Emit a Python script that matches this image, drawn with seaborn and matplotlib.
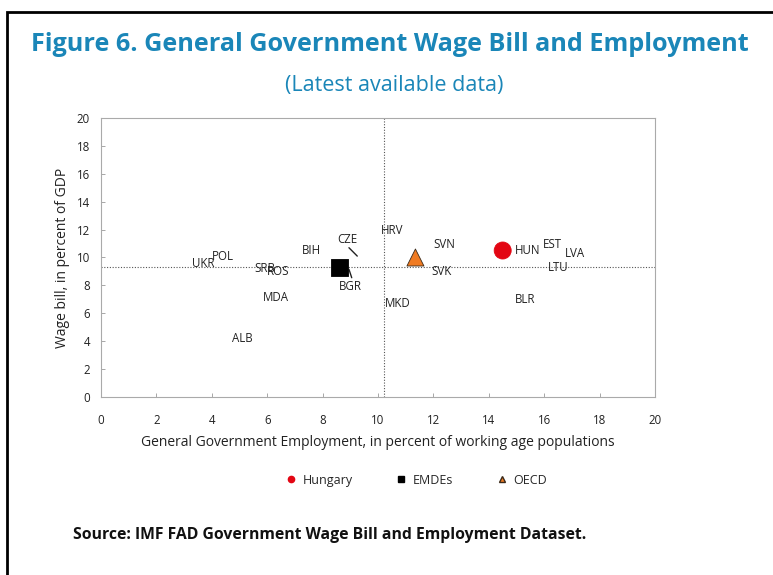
import matplotlib
matplotlib.use('Agg')
import matplotlib.pyplot as plt
import seaborn as sns
import pandas as pd
from matplotlib.patches import Rectangle
from matplotlib.lines import Line2D

# country labels (x = employment %, y = wage bill % of GDP)
countries = ['UKR', 'POL', 'SRB', 'ROS', 'MDA', 'ALB', 'BIH', 'CZE', 'BGR', 'HRV',
             'MKD', 'SVN', 'SVK', 'HUN', 'EST', 'LVA', 'LTU', 'BLR']
emp = [3.7, 4.4, 5.9, 6.4, 6.3, 5.1, 7.6, 8.9, 9.0, 10.5,
       10.7, 12.4, 12.3, 15.4, 16.3, 17.1, 16.5, 15.3]
wage = [9.6, 10.1, 9.2, 9.0, 7.1, 4.2, 10.5, 11.3, 7.9, 11.9,
        6.7, 10.9, 9.0, 10.5, 10.9, 10.3, 9.3, 7.0]

# leader lines from label to point
leader_names = ['CZE', 'BGR']
leader_x = [9.25, 8.95]
leader_y = [9.7, 9.25]

groups = ['Hungary', 'EMDEs', 'OECD']
group_x = [14.5, 8.6, 11.35]
group_y = [10.5, 9.25, 10.0]

avg_emp = 10.2
avg_wage = 9.35

teal = '#1a86b8'

sns.set_style('white')
plt.rcParams['font.family'] = ['Open Sans', 'DejaVu Sans']

fig = plt.figure(figsize=(7.73, 5.75), dpi=100)
ax = fig.add_axes([0.1307, 0.3096, 0.7167, 0.4852])

ax.axvline(avg_emp, color='#555555', ls=(0, (1, 1.5)), lw=0.8, zorder=1)
ax.axhline(avg_wage, color='#555555', ls=(0, (1, 1.5)), lw=0.8, zorder=1)

df = pd.DataFrame({'x': group_x, 'y': group_y, 'g': groups})
sns.scatterplot(data=df, x='x', y='y', hue='g', style='g',
                palette={'Hungary': '#e30613', 'EMDEs': '#000000', 'OECD': '#f07b22'},
                markers={'Hungary': 'o', 'EMDEs': 's', 'OECD': '^'},
                s=150, edgecolor='#222222', linewidth=0.6, ax=ax, zorder=3, legend=False)
ax.collections[0].set_edgecolors(['#e30613', '#000000', '#3a2a1a'])

for name, x, y in zip(countries, emp, wage):
    ax.text(x, y, name, ha='center', va='center', fontsize=8.3, color='#222222', zorder=4)

for name, lx, ly in zip(leader_names, leader_x, leader_y):
    i = countries.index(name)
    tx, ty = emp[i], wage[i]
    sy = ty - 0.6 if ty > ly else ty + 0.65
    ax.plot([tx + 0.05, lx], [sy, ly + (0.4 if ty > ly else -0.1)], color='#222222', lw=1.0, zorder=2)

ax.set_xlim(0, 20)
ax.set_ylim(0, 20)
ax.set_xticks(range(0, 21, 2))
ax.set_yticks(range(0, 21, 2))
ax.tick_params(direction='in', length=3, width=0.6, color='#999999', labelsize=8.3,
               labelcolor='#222222', left=True, bottom=True)
ax.tick_params(axis='x', pad=12)
ax.tick_params(axis='y', pad=8)
for sp in ax.spines.values():
    sp.set_color('#aaaaaa')
    sp.set_linewidth(0.8)
ax.set_xlabel('General Government Employment, in percent of working age populations',
              fontsize=10, color='#222222', labelpad=6)
ax.set_ylabel('Wage bill, in percent of GDP', fontsize=10, color='#222222', labelpad=5)

# legend
handles = [Line2D([], [], marker='o', ls='', color='#e30613', markersize=4.5),
           Line2D([], [], marker='s', ls='', color='#000000', markersize=4.5),
           Line2D([], [], marker='^', ls='', markerfacecolor='#f07b22',
                  markeredgecolor='#3a2a1a', markersize=4.5)]
fig.legend(handles, groups, loc='center', bbox_to_anchor=(0.537, 0.165), ncol=3,
           frameon=False, fontsize=9, handletextpad=0.3, handlelength=1.2,
           columnspacing=3.3)

fig.text(0.505, 0.922, 'Figure 6. General Government Wage Bill and Employment',
         ha='center', va='center', fontsize=18.2, fontweight='bold', color=teal)
fig.text(0.51, 0.851, '(Latest available data)', ha='center', va='center',
         fontsize=15.5, color=teal)
fig.text(0.094, 0.07, 'Source: IMF FAD Government Wage Bill and Employment Dataset.',
         ha='left', va='center', fontsize=11.3, fontweight='bold', color='#111111')

fig.patches.append(Rectangle((0.009, -0.05), 1.2, 1.03, transform=fig.transFigure,
                             fill=False, edgecolor='black', lw=2))

fig.savefig('out.png', dpi=100)
